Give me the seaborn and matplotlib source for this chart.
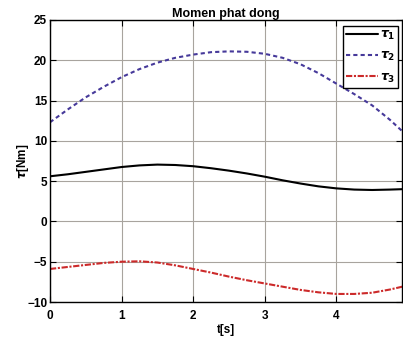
import matplotlib
matplotlib.use("Agg")
import matplotlib.pyplot as plt
import seaborn as sns
import pandas as pd

# time samples
t = [0, 0.25, 0.5, 0.75, 1.0, 1.25, 1.5, 1.75, 2.0, 2.25, 2.5,
     2.75, 3.0, 3.25, 3.5, 3.75, 4.0, 4.25, 4.5, 4.75, 4.92]
tau1 = [5.6, 5.85, 6.15, 6.45, 6.75, 6.95, 7.05, 7.0, 6.85, 6.6, 6.3,
        5.95, 5.55, 5.1, 4.7, 4.35, 4.1, 3.95, 3.9, 3.95, 4.0]
tau2 = [12.3, 13.9, 15.4, 16.7, 17.9, 18.9, 19.7, 20.3, 20.7, 21.0, 21.1,
        21.05, 20.8, 20.3, 19.5, 18.4, 17.1, 15.8, 14.4, 12.6, 11.2]
tau3 = [-5.9, -5.65, -5.4, -5.15, -5.0, -4.95, -5.1, -5.45, -5.9, -6.35, -6.85,
        -7.3, -7.7, -8.1, -8.5, -8.8, -9.0, -9.0, -8.85, -8.45, -8.1]

sns.set_theme(style="whitegrid")
plt.rcParams['font.family'] = ['Liberation Sans', 'DejaVu Sans']
plt.rcParams['font.weight'] = 'bold'
plt.rcParams['text.color'] = 'black'
plt.rcParams['axes.labelcolor'] = 'black'

fig = plt.figure(figsize=(4.03, 3.38), dpi=100)
ax = fig.add_axes([0.124, 0.1065, 0.874, 0.8345])

df = pd.DataFrame({"t": t, "tau1": tau1, "tau2": tau2, "tau3": tau3})

sns.lineplot(data=df, x="t", y="tau1", ax=ax, color="black", lw=1.5,
             label=r"$\tau_1$")
sns.lineplot(data=df, x="t", y="tau2", ax=ax, color="#46399a", lw=1.5,
             linestyle=(0, (2, 1.5)), label=r"$\tau_2$")
sns.lineplot(data=df, x="t", y="tau3", ax=ax, color="#cc2a2a", lw=1.5,
             linestyle=(0, (3, 0.8, 1, 0.8)), label=r"$\tau_3$")

ax.set_xlim(0, 4.92)
ax.set_ylim(-10, 25)
ax.set_xticks([0, 1, 2, 3, 4])
ax.set_yticks([-10, -5, 0, 5, 10, 15, 20, 25])
ax.grid(True, color="#a8a49e", lw=0.8)
ax.set_facecolor("white")
for s in ax.spines.values():
    s.set_color("black")
    s.set_linewidth(1.0)
ax.tick_params(direction="in", length=4, width=0.8, colors="black",
               labelsize=8.5, top=True, right=True, bottom=True, left=True)
ax.tick_params(axis="x", pad=6)
ax.tick_params(axis="y", pad=2)
for lab in ax.get_xticklabels() + ax.get_yticklabels():
    lab.set_fontweight("bold")

ax.set_title("Momen phat dong", fontsize=9, fontweight="bold", pad=2)
ax.set_xlabel("t[s]", fontsize=8.5, fontweight="bold", labelpad=1)
ax.set_ylabel(r"$\tau$[Nm]", fontsize=8.5, fontweight="bold")
ax.yaxis.set_label_coords(-0.055, 0.5)

leg = ax.legend(loc="upper right", bbox_to_anchor=(1 - 4 / 352, 1 - 6 / 282),
                borderaxespad=0, fontsize=9, frameon=True, fancybox=False,
                handlelength=2.5, borderpad=0.25, labelspacing=0.65,
                handletextpad=0.15)
leg.get_frame().set_edgecolor("black")
leg.get_frame().set_linewidth(1.0)
leg.get_frame().set_alpha(1)

fig.savefig("out.png", dpi=100, facecolor="white")
